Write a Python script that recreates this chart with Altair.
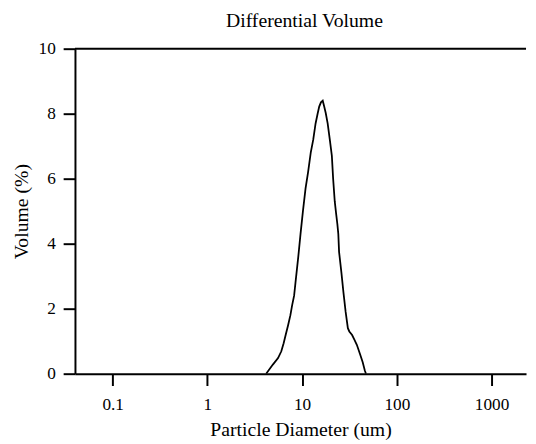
import altair as alt
import pandas as pd

diameter_um = [4.17, 4.91, 5.57, 6.03, 6.38, 6.70, 7.11, 7.52, 7.84, 8.23, 8.51,
               9.11, 9.62, 10.20, 10.87, 11.56, 12.33, 13.10, 13.87, 14.57, 15.15,
               15.80, 16.50, 17.10, 17.75, 18.60, 19.60, 20.60, 21.25, 22.10, 22.90,
               23.55, 24.10, 24.55, 26.00, 27.30, 28.80, 30.40, 31.50, 33.70, 35.60,
               37.80, 40.90, 43.60, 45.90, 47.20]
volume_pct = [0.0, 0.28, 0.48, 0.69, 0.94, 1.19, 1.49, 1.80, 2.10, 2.40, 2.8,
              3.6, 4.3, 5.0, 5.7, 6.2, 6.8, 7.2, 7.7, 8.0, 8.22,
              8.35, 8.4, 8.22, 8.02, 7.7, 7.2, 6.7, 6.0, 5.3, 4.9,
              4.6, 4.3, 3.75, 3.1, 2.5, 1.9, 1.4, 1.3, 1.19, 1.05,
              0.89, 0.6, 0.35, 0.1, 0.0]
x_ticks = [0.1, 1, 10, 100, 1000]
y_ticks = [0, 2, 4, 6, 8, 10]

df = pd.DataFrame({"d": diameter_um, "v": volume_pct})
FONT = "Liberation Serif"

x_enc = alt.X("d:Q", scale=alt.Scale(type="log", domain=[0.04, 2310], nice=False),
              axis=alt.Axis(values=x_ticks, title="Particle Diameter (um)", grid=False,
                            tickSize=12, tickWidth=2, domainWidth=2, domainColor="black",
                            tickColor="black", labelFont=FONT, labelFontSize=17.5,
                            labelColor="black", labelPadding=10, titleFont=FONT,
                            titleFontSize=20, titleFontWeight="normal", titleColor="black",
                            titlePadding=7,
                            labelExpr="datum.value >= 1 ? format(datum.value, 'd') : format(datum.value, '.1f')"))
y_enc = alt.Y("v:Q", scale=alt.Scale(domain=[0, 10], nice=False),
              axis=alt.Axis(values=y_ticks, title="Volume (%)", grid=False,
                            tickSize=12, tickWidth=2, domainWidth=2, domainColor="black",
                            tickColor="black", labelFont=FONT, labelFontSize=17.5,
                            labelColor="black", labelPadding=8, titleFont=FONT,
                            titleFontSize=20, titleFontWeight="normal", titleColor="black",
                            titlePadding=7))

line = alt.Chart(df).mark_line(color="black", strokeWidth=1.8, clip=True).encode(x=x_enc, y=y_enc)
top = alt.Chart(pd.DataFrame({"t": [10]})).mark_rule(color="black", strokeWidth=2).encode(y=alt.Y("t:Q"))

chart = alt.layer(line, top).properties(
    width=458, height=330,
    title=alt.TitleParams("Differential Volume", font=FONT, fontSize=20, fontWeight="normal",
                          color="black", offset=9, dx=4),
    autosize=alt.AutoSizeParams(type="none"),
    padding={"left": 68, "top": 38, "right": 2, "bottom": 64},
).configure_view(stroke=None)

chart.save("out.html", embed_options={"renderer": "svg", "actions": False})
